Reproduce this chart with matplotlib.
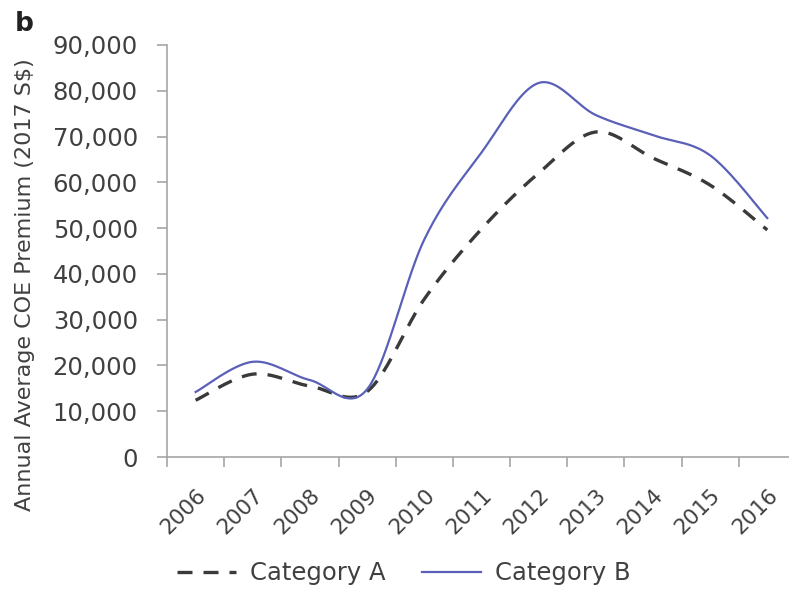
# Annual average COE premium, Category A vs Category B
import numpy as np
import matplotlib
matplotlib.use('Agg')
import matplotlib.pyplot as plt
from matplotlib.ticker import FuncFormatter

plt.rcParams['font.family'] = ['DejaVu Sans']

# Data
years = ['2006', '2007', '2008', '2009', '2010', '2011',
         '2012', '2013', '2014', '2015', '2016']
cat_a = [12400, 18100, 15500, 14300, 34500, 49800,
         62000, 71000, 65300, 59400, 49600]
cat_b = [14200, 20800, 16800, 14800, 47500, 66500,
         81700, 74700, 70300, 65900, 52200]


def smooth(x, y, n=40):
    # Excel-style smoothed line (Catmull-Rom through the points)
    pts = np.column_stack([x, y]).astype(float)
    ext = np.vstack([pts[0], pts, pts[-1]])
    t = np.linspace(0, 1, n)[:, None]
    out = []
    for i in range(len(pts) - 1):
        p0, p1, p2, p3 = ext[i], ext[i + 1], ext[i + 2], ext[i + 3]
        c1 = p1 + (p2 - p0) / 6
        c2 = p2 - (p3 - p1) / 6
        seg = ((1 - t) ** 3 * p1 + 3 * (1 - t) ** 2 * t * c1
               + 3 * (1 - t) * t ** 2 * c2 + t ** 3 * p2)
        out.append(seg if i == 0 else seg[1:])
    out = np.vstack(out)
    return out[:, 0], out[:, 1]


fig = plt.figure(figsize=(7.89, 5.89), dpi=100)
ax = fig.add_axes([0.2117, 0.2241, 0.797, 0.6995])

xc = np.arange(len(years)) + 0.5
xa, ya = smooth(xc, cat_a)
xb, yb = smooth(xc, cat_b)
ax.plot(xa, ya, color='#3a3a3a', lw=2.4, dashes=(4.5, 3.3),
        label='Category A')
ax.plot(xb, yb, color='#5a5fb8', lw=1.6, label='Category B')

ax.set_xlim(0, len(years))
ax.set_ylim(0, 90000)
ax.set_yticks(np.arange(0, 90001, 10000))
ax.yaxis.set_major_formatter(FuncFormatter(lambda v, p: f'{v:,.0f}'))

# tick marks at category boundaries, labels at category centres
ax.set_xticks(np.arange(0, len(years) + 1))
ax.set_xticklabels([])
ax.set_xticks(xc, minor=True)
ax.set_xticklabels(years, minor=True, rotation=45, ha='right', va='top',
                   rotation_mode='anchor')
ax.tick_params(axis='x', which='minor', length=0, pad=20, labelsize=15.5,
               labelcolor='#404040')
ax.tick_params(axis='x', which='major', length=7, width=1.2, color='#a6a6a6')
ax.tick_params(axis='y', length=7, width=1.2, color='#a6a6a6', pad=14,
               labelsize=17.5, labelcolor='#404040')

for side in ['top', 'right']:
    ax.spines[side].set_visible(False)
for side in ['left', 'bottom']:
    ax.spines[side].set_color('#a6a6a6')
    ax.spines[side].set_linewidth(1.2)

fig.text(0.032, 0.516, 'Annual Average COE Premium (2017 S$)', rotation=90,
         ha='center', va='center', fontsize=16, color='#404040')
fig.text(0.019, 0.959, 'b', fontsize=19, fontweight='bold', color='#222222',
         va='center')

fig.legend(loc='center', bbox_to_anchor=(0.512, 0.027), ncol=2,
           frameon=False, fontsize=17.5, handlelength=2.4,
           handletextpad=0.6, columnspacing=1.5, labelcolor='#404040',
           borderpad=0, borderaxespad=0)

fig.savefig('out.png', dpi=100)
